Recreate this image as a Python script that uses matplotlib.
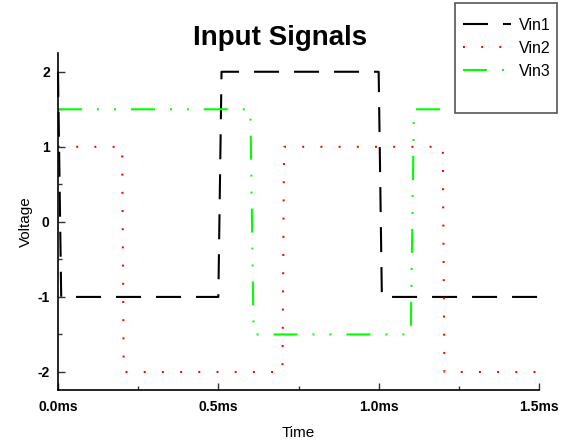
import matplotlib
matplotlib.use("Agg")
import matplotlib.pyplot as plt
from matplotlib.patches import Rectangle
from matplotlib.ticker import MultipleLocator, FixedLocator

plt.rcParams['font.family'] = ['Liberation Sans', 'DejaVu Sans']
plt.rcParams['lines.scale_dashes'] = False

# Data (time in ms, voltage in V)
t_vin1 = [0.0, 0.01, 0.5, 0.51, 1.0, 1.01, 1.5]
v_vin1 = [2, -1, -1, 2, 2, -1, -1]
t_vin2 = [0.0, 0.2, 0.205, 0.7, 0.705, 1.2, 1.205, 1.5]
v_vin2 = [1, 1, -2, -2, 1, 1, -2, -2]
t_vin3 = [0.0, 0.6, 0.61, 1.1, 1.11, 1.5]
v_vin3 = [1.5, 1.5, -1.5, -1.5, 1.5, 1.5]
x_ticks = [0.0, 0.5, 1.0, 1.5]
x_labels = ['0.0ms', '0.5ms', '1.0ms', '1.5ms']
y_ticks = [-2, -1, 0, 1, 2]

fig = plt.figure(figsize=(5.65, 4.44), dpi=100)
ax = fig.add_axes([58/565, 1-390/444, (539-58)/565, (390-53)/444])

ax.plot(t_vin1, v_vin1, color='black', lw=1.5, linestyle=(0, (18, 10.8)), label='Vin1', clip_on=False)
ax.plot(t_vin2, v_vin2, color='#ff0000', lw=1.5, linestyle=(0, (1.4, 11.7)), label='Vin2', clip_on=False)
ax.plot(t_vin3, v_vin3, color='#00ff00', lw=1.5,
        linestyle=(0, (17.3, 10.8, 1.4, 10.8, 1.4, 10.8)), label='Vin3', clip_on=False)

ax.set_xlim(0, 1.5)
ax.set_ylim(-2.24, 2.25)
for s in ['top', 'right']:
    ax.spines[s].set_visible(False)
for s in ['left', 'bottom']:
    ax.spines[s].set_linewidth(1.2)

ax.xaxis.set_major_locator(FixedLocator(x_ticks))
ax.set_xticklabels(x_labels, fontweight='bold', fontsize=10)
ax.xaxis.set_minor_locator(MultipleLocator(0.25))
ax.yaxis.set_major_locator(FixedLocator(y_ticks))
ax.set_yticklabels([str(v) for v in y_ticks], fontweight='bold', fontsize=10)
ax.yaxis.set_minor_locator(MultipleLocator(0.5))
ax.tick_params(which='major', direction='in', length=5, width=1, color='#333333')
ax.tick_params(axis='x', which='major', pad=7)
ax.tick_params(axis='y', which='major', pad=6)
ax.tick_params(which='minor', direction='in', length=3, width=1, color='#333333')

ax.set_xlabel('Time', fontsize=11, labelpad=9)
ax.set_ylabel('Voltage', fontsize=11, labelpad=3)
fig.text(280/565, 1-38/444, 'Input Signals', fontsize=20, fontweight='bold',
         ha='center', va='center')

fig.patches.append(Rectangle((455/565, 1-113/444), 102/565, 110/444,
                             transform=fig.transFigure, fill=True, facecolor='white',
                             edgecolor='#555555', lw=1.2, zorder=5))
leg = fig.legend(loc='upper left', bbox_to_anchor=(463/565, 1-18/444), frameon=False,
                 fontsize=11.5, handlelength=3.0, handletextpad=0.5, labelspacing=0.5,
                 borderpad=0, borderaxespad=0)
leg.set_zorder(6)

fig.savefig('out.png', dpi=100)
